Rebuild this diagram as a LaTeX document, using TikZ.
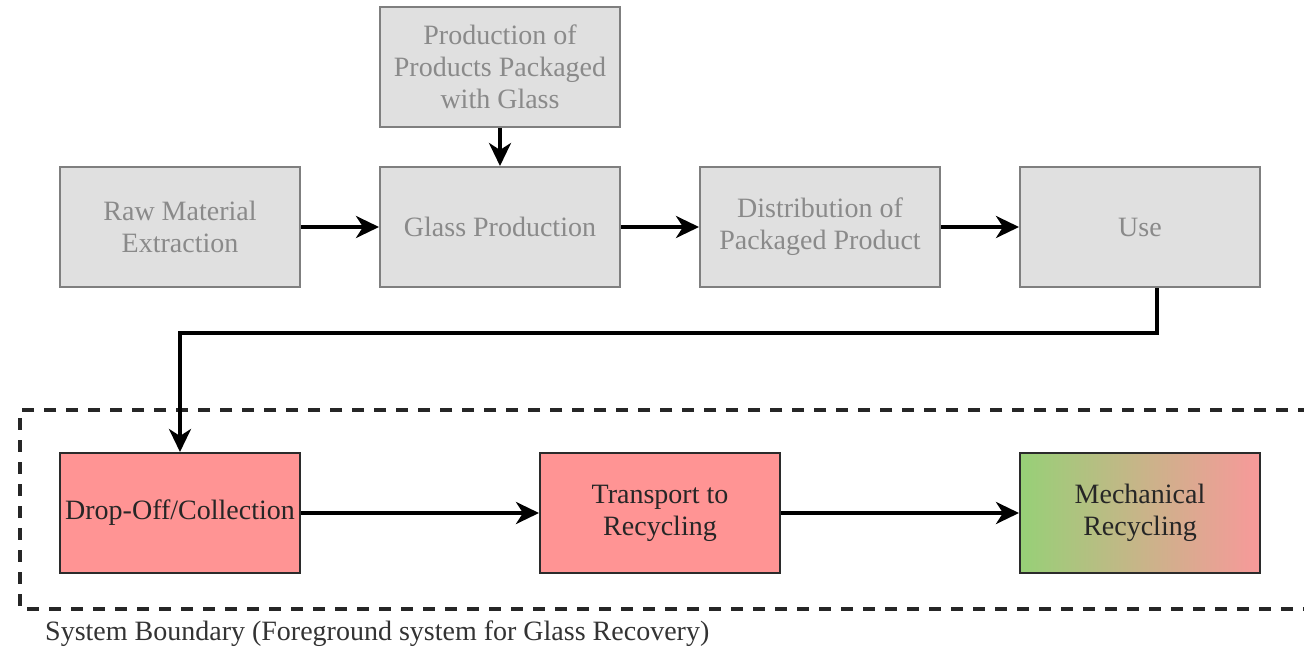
\documentclass[tikz,border=0pt]{standalone}
\usepackage{fontspec}
\setmainfont{LiberationSerif}[Extension=.ttf, UprightFont=*-Regular, BoldFont=*-Bold]
\newfontfamily\diagfont{LiberationSerif}[Extension=.ttf, UprightFont=*-Regular, BoldFont=*-Bold]
\usetikzlibrary{arrows.meta,positioning}
\definecolor{greyfill}{HTML}{E0E0E0}
\definecolor{greyline}{HTML}{7F7F7F}
\definecolor{greytext}{HTML}{8A8A8A}
\definecolor{redfill}{HTML}{FF9494}
\definecolor{darkline}{HTML}{2B2B2B}
\definecolor{greenend}{HTML}{97D077}
\definecolor{redend}{HTML}{F8999A}
\tikzset{
  every node/.style={font=\diagfont\fontsize{28}{32}\selectfont},
  greybox/.style={draw=greyline, line width=2pt, fill=greyfill, text=greytext,
    minimum width=240pt, minimum height=120pt, align=center, inner sep=0pt},
  redbox/.style={draw=darkline, line width=2pt, fill=redfill, text=black!85,
    minimum width=240pt, minimum height=120pt, align=center, inner sep=0pt},
  gradbox/.style={draw=darkline, line width=2pt, left color=greenend, right color=redend, text=black!85,
    minimum width=240pt, minimum height=120pt, align=center, inner sep=0pt},
  flow/.style={line width=3.6pt, -{Stealth[length=23pt, width=22pt, inset=7pt]}},
  boundary/.style={line width=3.6pt, dash pattern=on 12pt off 10pt, color=black!85},
}
\begin{document}
\begin{tikzpicture}[x=1pt, y=-1pt]
\useasboundingbox[fill=white] (0,0) rectangle (1304,647);
% top row
\node[greybox] (prod) at (500,67) {Production of\\Products Packaged\\with Glass};
\node[greybox] (raw) at (180,227) {Raw Material\\Extraction};
\node[greybox] (glass) at (500,227) {Glass Production};
\node[greybox] (dist) at (820,227) {Distribution of\\Packaged Product};
\node[greybox] (use) at (1140,227) {Use};
% bottom row
\node[redbox] (drop) at (180,513) {Drop-Off/Collection};
\node[redbox] (trans) at (660,513) {Transport to\\Recycling};
\node[gradbox] (mech) at (1140,513) {Mechanical\\Recycling};
% boundary
\coordinate (bTR) at (1310,410);
\coordinate (bTL) at (20,410);
\coordinate (bBL) at (20,609);
\coordinate (bBR) at (1310,609);
\draw[boundary] (bTR) -- (bTL) -- (bBL) -- (bBR);
\node[anchor=west, text=black!80, inner sep=0pt] (lbl) at (45,634) {System Boundary (Foreground system for Glass Recovery)};
% connectors
\draw[flow] (prod.south) -- (glass.north);
\draw[flow] (raw.east) -- (glass.west);
\draw[flow] (glass.east) -- (dist.west);
\draw[flow] (dist.east) -- (use.west);
\draw[flow] ([xshift=17pt]use.south) -- ++(0,45) -| (drop.north);
\draw[flow] (drop.east) -- (trans.west);
\draw[flow] (trans.east) -- (mech.west);
\end{tikzpicture}
\end{document}
